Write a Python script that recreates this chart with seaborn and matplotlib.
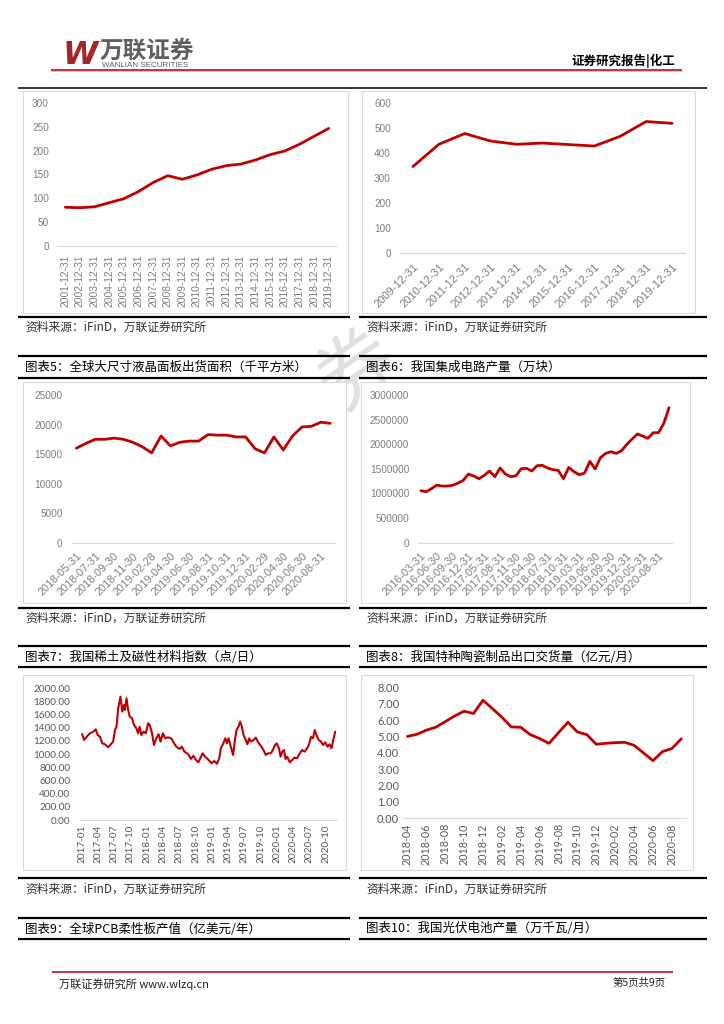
import numpy as np
import pandas as pd
import seaborn as sns
import matplotlib.pyplot as plt
from matplotlib.lines import Line2D
from matplotlib.patches import Rectangle

W, H = 724, 1024
RED = '#c00000'

# ---- data ----
c1_labels = [f'{y}-12-31' for y in range(2001, 2020)]
c1_vals = [81, 80, 82, 90.6, 99, 114, 133, 147.5, 140, 149, 161, 168.6, 172,
           180.6, 191.8, 199.5, 213.6, 230.4, 247]

c2_labels = [f'{y}-12-31' for y in range(2009, 2020)]
c2_vals = [347, 436, 479, 449, 436, 441, 435, 429, 468, 527, 520]

c3_dates = pd.date_range('2018-05-31', '2020-09-30', freq='ME')
c3_dates = c3_dates[c3_dates != pd.Timestamp('2019-01-31')]
c3_vals = [16000, 16800, 17500, 17500, 17700, 17500, 17000, 16250, 15200, 18060,
           16400, 17000, 17200, 17200, 18300, 18200, 18200, 17900, 17900, 15900,
           15200, 17900, 15700, 18100, 19600, 19700, 20400, 20200]

c4_dates = pd.date_range('2016-03-31', '2020-10-31', freq='ME')
c4_dates = c4_dates[c4_dates.month > 2]
c4_vals = [1056000, 1036000, 1097000, 1170000, 1150000, 1150000, 1165000, 1210000,
           1266000, 1395000, 1354000, 1300000, 1368000, 1456000, 1340000, 1517000,
           1395000, 1340000, 1360000, 1503000, 1510000, 1456000, 1564000, 1571000,
           1517000, 1483000, 1469000, 1300000, 1530000, 1442000, 1380000, 1415000,
           1652000, 1496000, 1726000, 1814000, 1848000, 1814000, 1869000, 1997000,
           2106000, 2207000, 2166000, 2120000, 2234000, 2234000, 2424000, 2742000]

c5_dates = ['2017-01-03', '2017-01-14', '2017-01-29', '2017-02-16', '2017-03-07', '2017-03-20',
            '2017-03-31', '2017-04-13', '2017-04-26', '2017-05-11', '2017-05-30', '2017-06-13',
            '2017-06-26', '2017-07-06', '2017-07-15', '2017-07-24', '2017-08-06', '2017-08-16',
            '2017-08-25', '2017-08-30', '2017-09-09', '2017-09-18', '2017-09-27', '2017-10-10',
            '2017-10-21', '2017-11-03', '2017-11-13', '2017-11-22', '2017-12-01', '2017-12-14',
            '2017-12-26', '2018-01-08', '2018-01-17', '2018-01-30', '2018-02-10', '2018-02-23',
            '2018-03-08', '2018-03-19', '2018-04-01', '2018-04-14', '2018-04-29', '2018-05-18',
            '2018-06-02', '2018-06-16', '2018-07-03', '2018-07-16', '2018-07-31', '2018-08-19',
            '2018-09-06', '2018-09-19', '2018-10-04', '2018-10-17', '2018-10-28', '2018-11-10',
            '2018-11-23', '2018-12-08', '2018-12-18', '2018-12-30', '2019-01-14', '2019-01-29',
            '2019-02-11', '2019-02-20', '2019-03-06', '2019-03-17', '2019-03-26', '2019-04-04',
            '2019-04-17', '2019-04-30', '2019-05-10', '2019-05-19', '2019-05-30', '2019-06-08',
            '2019-06-18', '2019-06-27', '2019-07-10', '2019-07-19', '2019-07-29', '2019-08-07',
            '2019-08-22', '2019-09-04', '2019-09-17', '2019-10-02', '2019-10-17', '2019-10-30',
            '2019-11-12', '2019-11-27', '2019-12-09', '2019-12-21', '2019-12-30', '2020-01-12',
            '2020-01-21', '2020-01-31', '2020-02-09', '2020-02-18', '2020-02-27', '2020-03-13',
            '2020-03-26', '2020-04-08', '2020-04-23', '2020-05-08', '2020-05-21', '2020-06-03',
            '2020-06-18', '2020-06-29', '2020-07-10', '2020-07-21', '2020-07-31', '2020-08-09',
            '2020-08-22', '2020-09-04', '2020-09-15', '2020-09-28', '2020-10-11', '2020-10-22',
            '2020-11-02', '2020-11-14', '2020-11-23']
c5_vals = [1306, 1215, 1265, 1317, 1342, 1377, 1291, 1265, 1165, 1150, 1104, 1150,
           1190, 1367, 1417, 1696, 1873, 1645, 1747, 1671, 1848, 1671, 1569, 1544,
           1443, 1393, 1317, 1417, 1291, 1342, 1317, 1468, 1443, 1317, 1139, 1241,
           1302, 1190, 1317, 1241, 1256, 1241, 1165, 1114, 1078, 1114, 1038, 1003,
           927, 977, 911, 876, 937, 1013, 962, 927, 896, 861, 896, 856,
           937, 1089, 1165, 1241, 1165, 1241, 1114, 987, 1215, 1367, 1417, 1493,
           1417, 1291, 1215, 1150, 1241, 1190, 1215, 1251, 1180, 1129, 1063, 987,
           1013, 1013, 1063, 1139, 1165, 1089, 962, 1038, 1063, 927, 962, 876,
           911, 947, 937, 1013, 1063, 1038, 1089, 1150, 1265, 1241, 1367, 1291,
           1215, 1190, 1139, 1180, 1114, 1150, 1089, 1241, 1342]

c6_dates = pd.date_range('2018-04-01', '2020-09-01', freq='MS')
c6_vals = [5.0, 5.13, 5.38, 5.56, 5.9, 6.25, 6.54, 6.4, 7.21, 6.7, 6.17, 5.58, 5.56,
           5.11, 4.87, 4.58, 5.23, 5.87, 5.27, 5.11, 4.52, 4.58, 4.62, 4.64, 4.46,
           3.99, 3.52, 4.07, 4.26, 4.85]

source_text = '资料来源：iFinD，万联证券研究所'
captions = [
    ('图表5：全球大尺寸液晶面板出货面积（千平方米）', '图表6：我国集成电路产量（万块）'),
    ('图表7：我国稀土及磁性材料指数（点/日）', '图表8：我国特种陶瓷制品出口交货量（亿元/月）'),
    ('图表9：全球PCB柔性板产值（亿美元/年）', '图表10：我国光伏电池产量（万千瓦/月）'),
]

sns.set_theme(style='white')
plt.rcParams['font.family'] = ['Noto Sans CJK SC', 'DejaVu Sans']

fig = plt.figure(figsize=(W / 100, H / 100), dpi=100)


def fx(x):
    return x / W


def fy(y):
    return 1 - y / H


def hline(x0, x1, y, color='black', lw=1.4):
    fig.add_artist(Line2D([fx(x0), fx(x1)], [fy(y), fy(y)], transform=fig.transFigure,
                          color=color, lw=lw, solid_capstyle='butt'))


def panel(x0, y0, x1, y1):
    fig.add_artist(Rectangle((fx(x0), fy(y1)), (x1 - x0) / W, (y1 - y0) / H,
                             transform=fig.transFigure, facecolor='white',
                             edgecolor='#d9d9d9', lw=0.8, zorder=-1))


def make_ax(x0, y0, x1, y1):
    ax = fig.add_axes([fx(x0), fy(y1), (x1 - x0) / W, (y1 - y0) / H])
    ax.patch.set_alpha(0)
    for s in ['top', 'right', 'left']:
        ax.spines[s].set_visible(False)
    ax.spines['bottom'].set_color('#d9d9d9')
    ax.spines['bottom'].set_linewidth(0.8)
    return ax


def cat_chart(box, labels, vals, ymax, ystep, yfmt, every, rot, font, yfs, xfs, tcolor,
              ypad, xpad, lw=2.0):
    ax = make_ax(*box)
    n = len(vals)
    sns.lineplot(x=np.arange(n), y=vals, ax=ax, color=RED, lw=lw, sort=False)
    ax.set_xlim(-0.5, n - 0.5)
    ax.set_ylim(0, ymax)
    yt = np.arange(0, ymax + ystep / 2, ystep)
    ax.set_yticks(yt)
    ax.set_yticklabels([yfmt.format(v) for v in yt], fontsize=yfs, color=tcolor, family=font)
    ax.set_xticks(np.arange(0, n, every))
    shown = [labels[i] for i in range(0, n, every)]
    if rot == 90:
        ax.set_xticklabels(shown, rotation=90, ha='center', va='top',
                           fontsize=xfs, color=tcolor, family=font)
    else:
        ax.set_xticklabels(shown, rotation=45, ha='right', va='top', rotation_mode='anchor',
                           fontsize=xfs, color=tcolor, family=font)
    ax.tick_params(axis='y', length=0, pad=ypad)
    ax.tick_params(axis='x', length=0, pad=xpad)
    ax.set_xlabel('')
    ax.set_ylabel('')
    return ax


# ---- page furniture ----
fig.text(fx(358), fy(372), '券', fontsize=56, color='#e0e0e0', rotation=35,
         ha='center', va='center', zorder=-2)

panel(22.7, 91, 347.7, 312.7)
panel(361.7, 91, 695, 312.7)
panel(22.7, 381.7, 346, 602.7)
panel(361, 381.7, 690, 602.7)
panel(22.7, 675, 346, 870)
panel(361, 675, 693, 870)

# header
fig.text(fx(63), fy(55), 'W', fontsize=23, color='#a3262a', fontweight='bold',
         fontstyle='italic', family='DejaVu Sans', ha='left', va='center')
fig.text(fx(100), fy(51), '万联证券', fontsize=17, color='#5f5f5f', fontweight='bold',
         ha='left', va='center')
fig.text(fx(102), fy(65.5), 'WANLIAN SECURITIES', fontsize=5.8, color='#5f5f5f',
         family='Liberation Sans', ha='left', va='center')
fig.text(fx(675), fy(61), '证券研究报告|化工', fontsize=9, color='black',
         fontweight='bold', ha='right', va='center')
hline(51, 682, 69.5, color='#b22b2b', lw=1.3)
hline(51, 682, 71, color='#b0b0b0', lw=0.5)
hline(18, 707, 87.5, lw=1.1)

# source / caption blocks under each row
rows = [(317, 327, 356, 367, 378), (608, 618, 646, 657, 667), (878, 889, 918, 929, 939)]
for (l1, src, l2, cap, l3), (capl, capr) in zip(rows, captions):
    for xa, xb, cap_text in [(18, 350, capl), (359, 707, capr)]:
        hline(xa, xb, l1, lw=1.6)
        hline(xa, xb, l2, lw=1.6)
        hline(xa, xb, l3, lw=1.6)
        fig.text(fx(xa + 7), fy(src), source_text, fontsize=8.5, color='#333333',
                 ha='left', va='center')
        fig.text(fx(xa + 7), fy(cap), cap_text, fontsize=9, color='black',
                 ha='left', va='center')

# footer
hline(52, 673, 972, color='#b22b2b', lw=1.3)
fig.text(fx(59), fy(984), '万联证券研究所 www.wlzq.cn', fontsize=8, color='#222222',
         ha='left', va='center')
fig.text(fx(666), fy(983), '第5页共9页', fontsize=7.5, color='#222222',
         ha='right', va='center')

# ---- charts ----
GRAY = '#7f7f7f'
cat_chart((58, 103.3, 336, 245.7), c1_labels, c1_vals, 300, 50, '{:.0f}', 1, 90,
          'Liberation Sans', 7.2, 7.4, GRAY, 6.5, 6.5)
cat_chart((400, 103.3, 685, 253.3), c2_labels, c2_vals, 600, 100, '{:.0f}', 1, 45,
          'Liberation Sans', 7.2, 8.0, GRAY, 6.5, 6)
cat_chart((71.7, 395, 335, 542.7), c3_dates.strftime('%Y-%m-%d').tolist(), c3_vals,
          25000, 5000, '{:.0f}', 2, 45, 'Liberation Sans', 7.2, 7.9, GRAY, 6.5, 6)
cat_chart((418.3, 395, 671.7, 542.7), c4_dates.strftime('%Y-%m-%d').tolist(), c4_vals,
          3000000, 500000, '{:.0f}', 3, 45, 'Liberation Sans', 7.2, 7.9, GRAY, 6.5, 6)

# chart with daily dates
ax5 = make_ax(80, 688.3, 336, 820)
df5 = pd.DataFrame({'date': pd.to_datetime(c5_dates), 'val': c5_vals})
sns.lineplot(data=df5, x='date', y='val', ax=ax5, color=RED, lw=1.5)
ax5.set_xlim(pd.Timestamp('2016-12-22'), pd.Timestamp('2020-11-27'))
ax5.set_ylim(0, 2000)
yt = np.arange(0, 2001, 200)
ax5.set_yticks(yt)
ax5.set_yticklabels([f'{v:.2f}' for v in yt], fontsize=7.2, color='#595959', family='Lato')
xt = pd.date_range('2017-01-01', '2020-10-01', freq='3MS')
ax5.set_xticks(xt)
ax5.set_xticklabels(xt.strftime('%Y-%m'), rotation=90, ha='center', va='top',
                    fontsize=7.2, color='#595959', family='Lato')
ax5.tick_params(axis='y', length=0, pad=7)
ax5.tick_params(axis='x', length=2.5, width=0.6, color='#bfbfbf', pad=1, direction='out')
ax5.set_xlabel('')
ax5.set_ylabel('')

ax6 = cat_chart((402.7, 687.3, 686, 818.3), c6_dates.strftime('%Y-%m').tolist(), c6_vals,
                8, 1, '{:.2f}', 2, 90, 'Lato', 8.0, 7.7, '#595959', 2.5, 3.5)
ax6.set_xticks(np.arange(-0.5, len(c6_vals), 2), minor=True)
ax6.tick_params(axis='x', which='minor', length=2.5, width=0.6, color='#bfbfbf')

fig.savefig('out.png', dpi=100)
